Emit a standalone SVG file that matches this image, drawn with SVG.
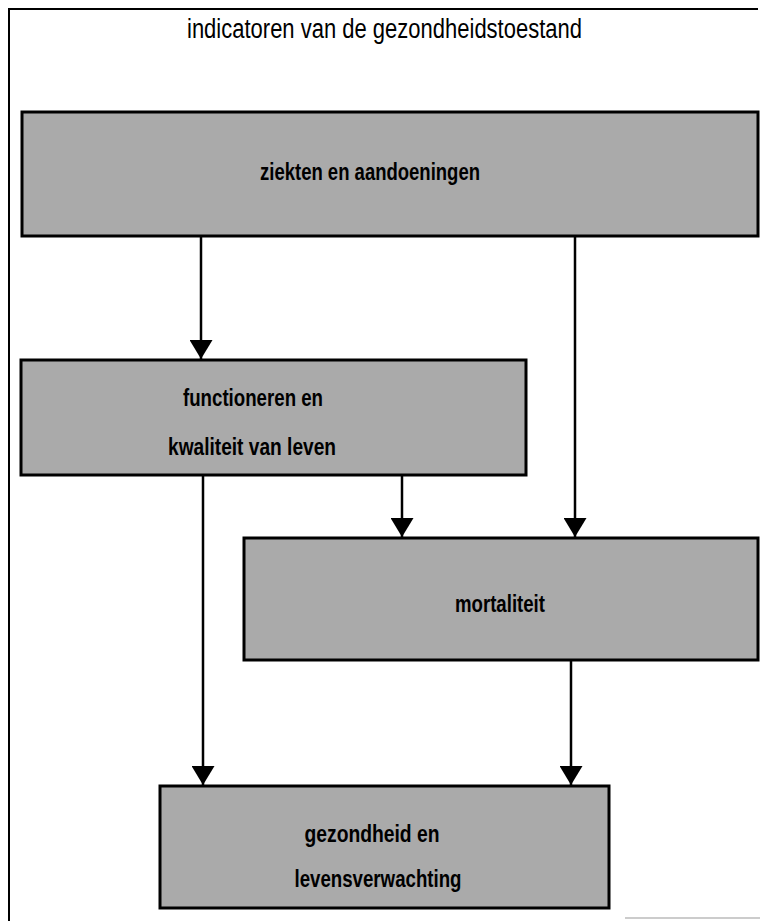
<svg xmlns="http://www.w3.org/2000/svg" width="760" height="921" viewBox="0 0 760 921">
<style>
.box{fill:#aaaaaa;stroke:#000;stroke-width:3}
.lbl{font-family:"Liberation Sans",Arial,sans-serif;font-size:23px;font-weight:bold;fill:#000;text-anchor:middle}
.title{font-family:"Liberation Sans",Arial,sans-serif;font-size:27px;fill:#000;text-anchor:middle}
.con{stroke:#000;stroke-width:2.5;fill:none;marker-end:url(#ah)}
.frame{stroke:#000;stroke-width:2;fill:none}
</style>
<defs>
<marker id="ah" viewBox="0 0 19 23" refX="19" refY="11.5" markerWidth="19" markerHeight="23" markerUnits="userSpaceOnUse" orient="auto">
<path d="M0,0 L19,11.5 L0,23 z" fill="#000"/>
</marker>
</defs>
<rect width="760" height="921" fill="#fff"/>
<g id="frame">
<path class="frame" d="M9,921 V9 H758"/>
<path d="M625,918 H760" stroke="#bbb" stroke-width="1.5"/>
</g>
<text class="title" x="384.5" y="38" textLength="395" lengthAdjust="spacingAndGlyphs">indicatoren van de gezondheidstoestand</text>
<g id="connectors">
<line class="con" x1="201" y1="236" x2="201" y2="359"/>
<line class="con" x1="575" y1="236" x2="575" y2="537"/>
<line class="con" x1="402" y1="475" x2="402" y2="537"/>
<line class="con" x1="203" y1="475" x2="203" y2="785"/>
<line class="con" x1="571" y1="660" x2="571" y2="785"/>
</g>
<g id="ziekten">
<rect class="box" x="22" y="112" width="736" height="124"/>
<text class="lbl" x="370" y="180" textLength="220" lengthAdjust="spacingAndGlyphs">ziekten en aandoeningen</text>
</g>
<g id="functioneren">
<rect class="box" x="21" y="360" width="505" height="115"/>
<text class="lbl" x="253" y="406" textLength="140" lengthAdjust="spacingAndGlyphs">functioneren en</text>
<text class="lbl" x="252" y="455" textLength="168" lengthAdjust="spacingAndGlyphs">kwaliteit van leven</text>
</g>
<g id="mortaliteit">
<rect class="box" x="244" y="538" width="514" height="122"/>
<text class="lbl" x="500" y="612" textLength="90" lengthAdjust="spacingAndGlyphs">mortaliteit</text>
</g>
<g id="gezondheid">
<rect class="box" x="160" y="786" width="449" height="122"/>
<text class="lbl" x="372" y="842" textLength="135" lengthAdjust="spacingAndGlyphs">gezondheid en</text>
<text class="lbl" x="378" y="887" textLength="167" lengthAdjust="spacingAndGlyphs">levensverwachting</text>
</g>
</svg>
